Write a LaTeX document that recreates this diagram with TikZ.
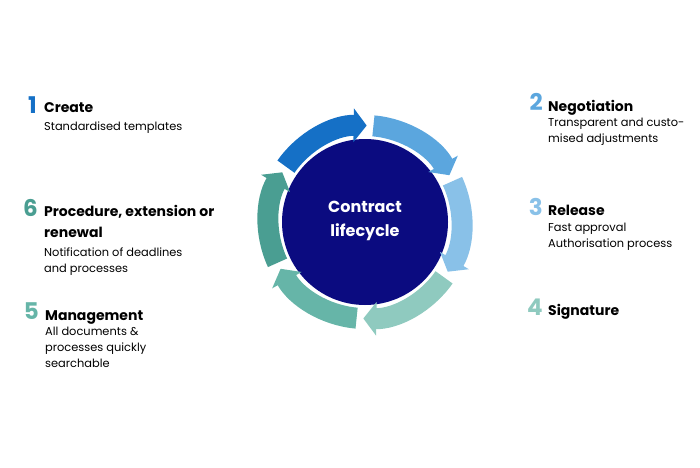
\documentclass[tikz,border=0pt]{standalone}
\usepackage{fontspec}
\setmainfont{Poppins}
\usetikzlibrary{arrows.meta}

\definecolor{cyclenavy}{HTML}{0B0B80}
\definecolor{cone}{HTML}{1570C6}
\definecolor{ctwo}{HTML}{5BA6DE}
\definecolor{cthree}{HTML}{89C1E8}
\definecolor{cfour}{HTML}{8FCABF}
\definecolor{cfive}{HTML}{66B5A8}
\definecolor{csix}{HTML}{4A9E92}

\tikzset{
  num/.style={anchor=base east, inner sep=0pt, font=\fontsize{23}{23}\selectfont\bfseries},
  head/.style={anchor=base west, inner sep=0pt, align=left, font=\fontsize{14}{21}\selectfont\bfseries},
  sub/.style={anchor=base west, inner sep=0pt, align=left, font=\fontsize{11.4}{16}\selectfont},
  ringseg/.style={line width=21pt, -{Triangle[width=33pt,length=13pt]}}
}

\begin{document}
\begin{tikzpicture}[x=1pt,y=1pt]
        \useasboundingbox (0,0) rectangle (700,467);

        \coordinate (mid) at (365,245);
        \node[circle, fill=cyclenavy, minimum size=166pt, inner sep=0pt] (hub) at (mid) {};
        \node[text=white, align=center, font=\fontsize{16}{24}\selectfont\bfseries] (title) at (365,246) {Contract\\lifecycle};

        % ring of arrows
        \foreach \c [count=\i from 0] in {cone,ctwo,cthree,cfour,cfive,csix}
            \draw[ringseg, draw=\c, fill=\c] ([shift={(145-60*\i:96.5)}]mid) arc[start angle=145-60*\i, end angle=89-60*\i, radius=96.5];

        % left column (base = last line)
        \node[num, text=cone] (n1) at (37,354) {1};
        \node[head] (h1) at (44,355) {Create};
        \node[sub] (s1) at (44,337) {Standardised templates};

        \node[num, text=csix] (n6) at (38,251) {6};
        \node[head] (h6) at (44,230) {Procedure, extension or\\renewal};
        \node[sub] (s6) at (44,195) {Notification of deadlines\\and processes};

        \node[num, text=cfive] (n5) at (39,148) {5};
        \node[head] (h5) at (45,147) {Management};
        \node[sub] (s5) at (45,100) {All documents \&\\processes quickly\\searchable};

        % right column
        \node[num, text=ctwo] (n2) at (543,357) {2};
        \node[head] (h2) at (548,356) {Negotiation};
        \node[sub] (s2) at (548,325) {Transparent and custo-\\mised adjustments};

        \node[num, text=cthree] (n3) at (543,252) {3};
        \node[head] (h3) at (548,252) {Release};
        \node[sub] (s3) at (548,220) {Fast approval\\Authorisation process};

        \node[num, text=cfour] (n4) at (543,152) {4};
        \node[head] (h4) at (548,152) {Signature};
    \end{tikzpicture}
\end{document}
